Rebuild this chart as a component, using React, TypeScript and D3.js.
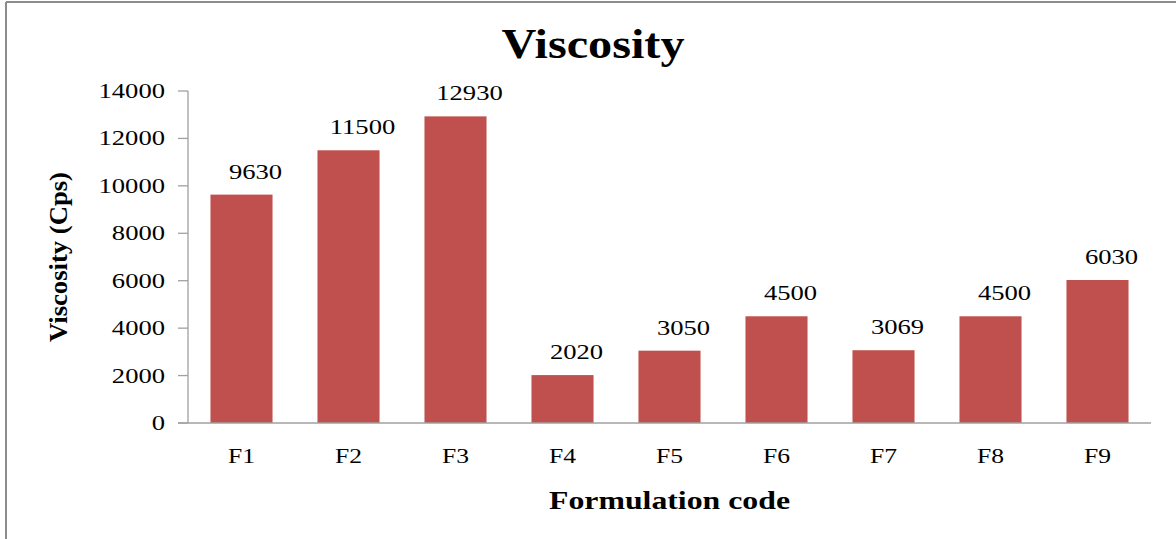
import React from 'react';
import * as d3 from 'd3';

// data
const categories = ['F1', 'F2', 'F3', 'F4', 'F5', 'F6', 'F7', 'F8', 'F9'];
const viscosity = [9630, 11500, 12930, 2020, 3050, 4500, 3069, 4500, 6030];
const yTicks = [0, 2000, 4000, 6000, 8000, 10000, 12000, 14000];

const W = 1176;
const H = 539;
const left = 188;
const right = 1151;
const top = 91;
const bottom = 423;

const serif = '"Liberation Serif", "Times New Roman", serif';
const stretch = 1.33; // the original text is drawn wide

const App = () => {
    const x = d3.scaleBand<string>()
        .domain(categories)
        .range([left, right])
        .paddingInner(0.42)
        .paddingOuter(0.21);

    const y = d3.scaleLinear()
        .domain([0, 14000])
        .range([bottom, top]);

    const axisColor = '#a0a0a0';

    return (
        <svg width={W} height={H} style={{ position: 'absolute', left: 0, top: 0, background: '#fff' }}>
            {/* outer frame (only top and left edges are visible) */}
            <line x1={6} x2={W} y1={2} y2={2} stroke="#8c8c8c" strokeWidth={2} />
            <line x1={6} x2={6} y1={2} y2={H} stroke="#8c8c8c" strokeWidth={2} />

            {/* title */}
            <text x={593} y={58} textAnchor="middle" fontFamily={serif} fontWeight="bold"
                fontSize={42} textLength={183} lengthAdjust="spacingAndGlyphs">Viscosity</text>

            {/* bars */}
            {viscosity.map((v, i) => (
                <rect key={categories[i]} x={x(categories[i])} y={y(v)}
                    width={x.bandwidth()} height={y(0) - y(v)} fill="#c0504d" />
            ))}

            {/* data labels */}
            {viscosity.map((v, i) => (
                <text key={'l' + i} fontFamily={serif} fontSize={20} textAnchor="middle" fill="#000"
                    transform={`translate(${x(categories[i])! + x.bandwidth() / 2 + 14},${y(v) - 16}) scale(${stretch},1)`}>
                    {v}
                </text>
            ))}

            {/* y axis */}
            <line x1={left} x2={left} y1={top} y2={bottom} stroke={axisColor} strokeWidth={1.3} />
            {yTicks.map(t => (
                <g key={t}>
                    <line x1={left - 10} x2={left} y1={y(t)} y2={y(t)} stroke={axisColor} strokeWidth={1.3} />
                    <text fontFamily={serif} fontSize={20} textAnchor="end"
                        transform={`translate(165,${y(t) + 7}) scale(${stretch},1)`}>{t}</text>
                </g>
            ))}

            {/* x axis */}
            <line x1={left - 10} x2={right} y1={bottom} y2={bottom} stroke={axisColor} strokeWidth={1.5} />
            {categories.map(c => (
                <text key={c} fontFamily={serif} fontSize={20} textAnchor="middle"
                    transform={`translate(${x(c)! + x.bandwidth() / 2},463) scale(1.28,1)`}>{c}</text>
            ))}

            {/* axis titles */}
            <text x={669.5} y={509} textAnchor="middle" fontFamily={serif} fontWeight="bold"
                fontSize={26} textLength={241} lengthAdjust="spacingAndGlyphs">Formulation code</text>
            <text transform="translate(67,257) rotate(-90)" textAnchor="middle" fontFamily={serif}
                fontWeight="bold" fontSize={25} textLength={170} lengthAdjust="spacingAndGlyphs">Viscosity (Cps)</text>
        </svg>
    );
};

export default App;
